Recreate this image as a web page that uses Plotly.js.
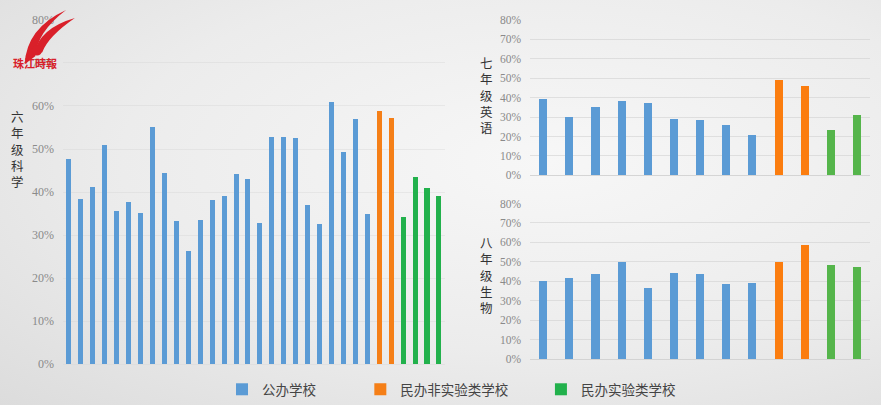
<!DOCTYPE html>
<html>
<head>
<meta charset="utf-8">
<script src="https://cdn.plot.ly/plotly-3.0.1.min.js"></script>
<style>
html,body{margin:0;padding:0;}
body{width:881px;height:405px;overflow:hidden;
background:radial-gradient(ellipse at 62% 40%, #f7f7f7 0%, #ececec 55%, #dcdcdc 100%);}
#chart{width:881px;height:405px;}
</style>
</head>
<body>
<div id="chart"></div>
<script>
// ---- data ----
const seriesNames = ['公办学校', '民办非实验类学校', '民办实验类学校'];
const yTickVals = [0, 0.1, 0.2, 0.3, 0.4, 0.5, 0.6, 0.7, 0.8];
const yTickText = ['0%', '10%', '20%', '30%', '40%', '50%', '60%', '70%', '80%'];

// 六年级科学
const sciencePublic = [0.477, 0.383, 0.412, 0.510, 0.356, 0.376, 0.351, 0.551, 0.444, 0.332, 0.264, 0.336, 0.381,
                       0.392, 0.442, 0.430, 0.329, 0.527, 0.528, 0.525, 0.369, 0.325, 0.610, 0.492, 0.570, 0.350];
const sciencePrivate = [0.589, 0.571];
const scienceExperimental = [0.343, 0.434, 0.410, 0.392];

// 七年级英语
const englishPublic = [0.391, 0.298, 0.351, 0.381, 0.371, 0.289, 0.284, 0.260, 0.208];
const englishPrivate = [0.490, 0.460];
const englishExperimental = [0.235, 0.313];

// 八年级生物
const biologyPublic = [0.403, 0.419, 0.437, 0.497, 0.364, 0.441, 0.436, 0.386, 0.391];
const biologyPrivate = [0.499, 0.584];
const biologyExperimental = [0.485, 0.473];

// ---- styles ----
const colors = ['#5b9bd5', '#f57f17', '#22b14c'];
const colorsRight = ['#5b9bd5', '#fb7d0f', '#55b54b'];

function positions(start, n) { return Array.from({length: n}, (_, i) => start + i + 1); }

function groupTraces(groups, xa, ya, width, cols, showLegend) {
  const traces = [];
  let start = 0;
  groups.forEach((vals, k) => {
    traces.push({
      type: 'bar', x: positions(start, vals.length), y: vals,
      xaxis: xa, yaxis: ya, width: width,
      name: seriesNames[k],
      marker: {color: cols[k], line: {width: 0}},
      showlegend: showLegend,
      legend: k === 0 ? 'legend' : ('legend' + (k + 1)),
      hoverinfo: 'y'
    });
    start += vals.length;
  });
  return traces;
}

const leftGroups = [sciencePublic, sciencePrivate, scienceExperimental];
const topGroups = [englishPublic, englishPrivate, englishExperimental];
const botGroups = [biologyPublic, biologyPrivate, biologyExperimental];
const nLeft = leftGroups.reduce((a, g) => a + g.length, 0);
const nTop = topGroups.reduce((a, g) => a + g.length, 0);
const nBot = botGroups.reduce((a, g) => a + g.length, 0);

const data = [].concat(
  groupTraces(leftGroups, 'x', 'y', 0.42, colors, true),
  groupTraces(topGroups, 'x2', 'y2', 0.31, colorsRight, false),
  groupTraces(botGroups, 'x3', 'y3', 0.31, colorsRight, false)
);

function yAxis(domain, anchor, size, grid) {
  return {
    domain: domain, anchor: anchor, range: [0, 0.8],
    tickvals: yTickVals, ticktext: yTickText,
    tickfont: {family: 'Liberation Serif, DejaVu Serif, serif', size: size, color: '#8a8a8a'},
    showgrid: true, gridcolor: grid, gridwidth: 1,
    zeroline: false, showline: false, ticks: '', ticklabelstandoff: 8,
    fixedrange: true
  };
}
function xAxis(domain, anchor, n, lc) {
  return {
    domain: domain, anchor: anchor, range: [0.5, n + 0.5],
    showticklabels: false, ticks: '', showgrid: false, zeroline: false,
    showline: true, linecolor: lc, linewidth: 1,
    fixedrange: true
  };
}

const legendBase = {
  orientation: 'h', xanchor: 'left', yanchor: 'middle', y: 0.031,
  bgcolor: 'rgba(0,0,0,0)', borderwidth: 0,
  font: {family: 'Noto Sans CJK SC, sans-serif', size: 13.5, color: '#444'},
  itemwidth: 30, itemclick: false, itemdoubleclick: false
};

const titleFont = {family: 'Liberation Sans, Noto Sans CJK SC, sans-serif', size: 12.5, color: '#333'};
function vTitle(text, x, y) {
  return {
    text: text.split('').join('<br>'), x: x, y: y, xref: 'paper', yref: 'paper',
    xanchor: 'center', yanchor: 'middle', showarrow: false, font: titleFont, align: 'center'
  };
}

const layout = {
  width: 881, height: 405,
  margin: {l: 0, r: 0, t: 0, b: 0},
  paper_bgcolor: 'rgba(0,0,0,0)', plot_bgcolor: 'rgba(0,0,0,0)',
  barmode: 'overlay', bargap: 0,
  showlegend: true,
  xaxis: xAxis([0.0715, 0.505], 'y', nLeft, 'rgba(215,215,215,0.5)'),
  yaxis: yAxis([0.0938, 0.9506], 'x', 12, 'rgba(210,210,210,0.35)'),
  xaxis2: xAxis([0.6018, 0.9876], 'y2', nTop, 'rgba(205,205,205,0.8)'),
  yaxis2: yAxis([0.5637, 0.9506], 'x2', 11.5, 'rgba(205,205,205,0.55)'),
  xaxis3: xAxis([0.6018, 0.9876], 'y3', nBot, 'rgba(205,205,205,0.8)'),
  yaxis3: yAxis([0.1069, 0.4938], 'x3', 11.5, 'rgba(205,205,205,0.55)'),
  legend: Object.assign({}, legendBase, {x: 0.252}),
  legend2: Object.assign({}, legendBase, {x: 0.409}),
  legend3: Object.assign({}, legendBase, {x: 0.614}),
  annotations: [
    vTitle('六年级科学', 0.020, 0.626),
    vTitle('七年级英语', 0.552, 0.760),
    vTitle('八年级生物', 0.552, 0.313),
    {text: '<b>珠江時報</b>', x: 0.040, y: 0.843, xref: 'paper', yref: 'paper', showarrow: false,
     xanchor: 'center', yanchor: 'middle',
     font: {family: 'Noto Sans CJK SC, sans-serif', size: 11, color: '#d9202a'}}
  ],
  shapes: [
    {type: 'path', xref: 'paper', yref: 'paper',
     path: 'M 0.028 0.84 Q 0.030 0.93 0.075 0.975 Q 0.042 0.92 0.040 0.86 Z',
     fillcolor: '#d9202a', line: {width: 0}},
    {type: 'path', xref: 'paper', yref: 'paper',
     path: 'M 0.038 0.865 Q 0.045 0.93 0.085 0.955 Q 0.055 0.91 0.048 0.87 Z',
     fillcolor: '#d9202a', line: {width: 0}},
    {type: 'circle', xref: 'paper', yref: 'paper', x0: 0.036, x1: 0.048, y0: 0.862, y1: 0.888,
     fillcolor: '#d9202a', line: {width: 0}}
  ]
};

Plotly.newPlot('chart', data, layout, {displayModeBar: false, staticPlot: true});
</script>
</body>
</html>
